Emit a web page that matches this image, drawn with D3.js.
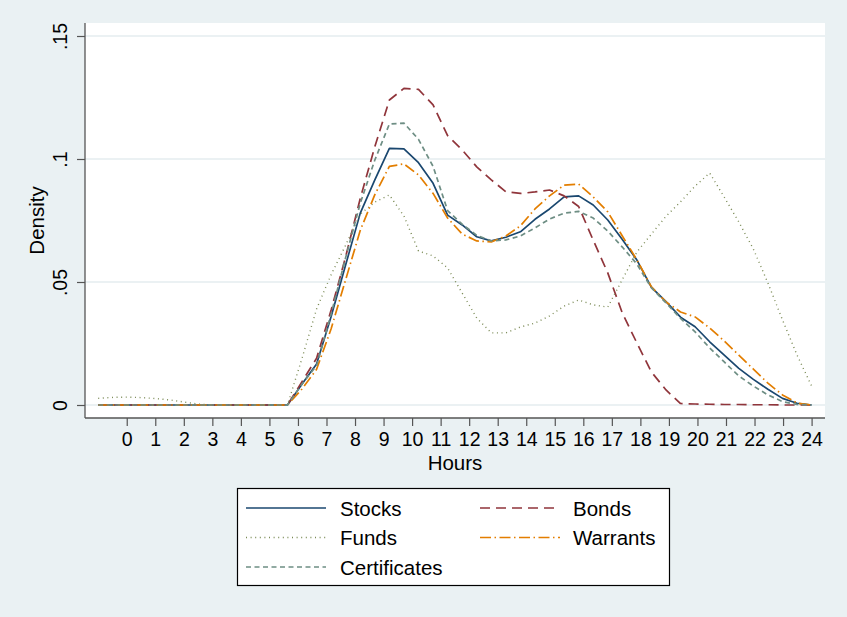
<!DOCTYPE html>
<html>
<head>
<meta charset="utf-8">
<script src="https://cdn.jsdelivr.net/npm/d3@7"></script>
<style>
  html, body { margin: 0; padding: 0; background: #eaf1f3; }
  svg { display: block; font-family: "Liberation Sans", Arial, Helvetica, sans-serif; }
</style>
</head>
<body>
<svg id="chart" width="847" height="617"></svg>
<script>
// Kernel density evaluation points (hours)
const hours = [-1.000,-0.490,0.020,0.531,1.041,1.551,2.061,2.571,3.082,3.592,
  4.102,4.612,5.122,5.633,6.143,6.653,7.163,7.673,8.184,8.694,
  9.204,9.714,10.224,10.735,11.245,11.755,12.265,12.776,13.286,13.796,
  14.306,14.816,15.327,15.837,16.347,16.857,17.367,17.878,18.388,18.898,
  19.408,19.918,20.429,20.939,21.449,21.959,22.469,22.980,23.490,24.000];

const stocks = [0,0,0,0,0,0,0,0,0,0,0,0,0,0,
  0.0085,0.0167,0.036,0.057,0.078,0.0915,0.1043,0.1041,0.0985,0.0901,
  0.0772,0.0732,0.0684,0.0667,0.0682,0.0704,0.0755,0.0797,0.0846,0.085,
  0.0813,0.0752,0.0673,0.0589,0.0478,0.042,0.0357,0.0318,0.0257,0.0203,
  0.0149,0.0104,0.0064,0.0027,0.0007,0];

const bonds = [0,0,0,0,0,0,0,0,0,0,0,0,0,0,
  0.0095,0.019,0.0386,0.0603,0.084,0.105,0.124,0.1287,0.1283,0.122,
  0.1095,0.1037,0.0968,0.0915,0.0867,0.086,0.0866,0.0874,0.085,0.0807,
  0.067,0.0537,0.0374,0.0252,0.0134,0.0061,0.0006,0.0004,0.0003,0.0002,
  0.0002,0.0001,0.0001,0,0,0];

const funds = [0.0027,0.0031,0.0032,0.003,0.0026,0.002,0.0011,0.0003,0,0,0,0,0,0,
  0.019,0.039,0.053,0.065,0.0776,0.0825,0.0854,0.0768,0.0626,0.0606,
  0.0557,0.0455,0.0354,0.0293,0.0293,0.0317,0.0333,0.0362,0.0402,0.0427,
  0.0407,0.0398,0.051,0.0622,0.0695,0.0767,0.0826,0.089,0.0943,0.0845,
  0.0744,0.0634,0.0496,0.0346,0.0203,0.0077];

const warrants = [0,0,0,0,0,0,0,0,0,0,0,0,0,0,
  0.0065,0.0145,0.031,0.051,0.071,0.0855,0.097,0.098,0.0935,0.086,
  0.076,0.0695,0.0667,0.0663,0.0687,0.0728,0.0797,0.085,0.0894,0.0898,
  0.0846,0.0785,0.0687,0.059,0.048,0.0419,0.0378,0.0358,0.0313,0.026,
  0.0203,0.0146,0.0089,0.0041,0.0008,0];

const certificates = [0,0,0,0,0,0,0,0,0,0,0,0,0,0,
  0.0085,0.016,0.037,0.06,0.082,0.0996,0.1142,0.1146,0.108,0.097,
  0.079,0.0735,0.069,0.0667,0.0671,0.0687,0.072,0.0756,0.078,0.0787,
  0.076,0.0707,0.0642,0.0573,0.0476,0.0415,0.0352,0.0297,0.0232,0.0175,
  0.0118,0.0077,0.0041,0.0014,0.0002,0];

const xTicks = d3.range(0, 25);
const yTicks = [0, 0.05, 0.1, 0.15];
const yTickLabels = ["0", ".05", ".1", ".15"];

const seriesNames = ["Stocks", "Bonds", "Funds", "Warrants", "Certificates"];
const seriesValues = [stocks, bonds, funds, warrants, certificates];
const seriesColors = ["#1a476f", "#90353b", "#7a8a55", "#e37e00", "#6e8e84"];
const seriesDash = [null, "10,6", "1,3.6", "11,3.5,1.5,3.5", "5,3.5"];
const seriesWidth = [1.7, 1.7, 1.4, 1.7, 1.7];

const svg = d3.select("#chart");
const W = 847, H = 617;

svg.append("rect").attr("width", W).attr("height", H).attr("fill", "#eaf1f3");

// plot region
const plot = { left: 85, right: 825, top: 23, bottom: 418 };
svg.append("rect")
  .attr("x", plot.left).attr("y", plot.top)
  .attr("width", plot.right - plot.left).attr("height", plot.bottom - plot.top)
  .attr("fill", "#ffffff");

const x = d3.scaleLinear().domain([-1, 24]).range([98.2, 811.6]);
const y = d3.scaleLinear().domain([0, 0.15]).range([405, 36]);

// horizontal gridlines
svg.append("g").selectAll("line").data(yTicks).join("line")
  .attr("x1", plot.left).attr("x2", plot.right)
  .attr("y1", d => y(d)).attr("y2", d => y(d))
  .attr("stroke", "#e4ecef").attr("stroke-width", 1.4);

// y axis
const yAxis = d3.axisLeft(y).tickValues(yTicks).tickSize(8).tickPadding(10)
  .tickFormat((d, i) => yTickLabels[i]);
const gy = svg.append("g").attr("transform", `translate(${plot.left},0)`).call(yAxis);
gy.select(".domain").attr("d", `M0,${plot.top}V${plot.bottom}`).attr("stroke", "#555").attr("stroke-width", 1.3);
gy.selectAll(".tick line").attr("stroke", "#555").attr("stroke-width", 1.2);
gy.selectAll(".tick text")
  .attr("font-size", 19.5).attr("fill", "#000")
  .attr("text-anchor", "middle")
  .attr("dy", 0)
  .attr("transform", "translate(-18,0) rotate(-90)")
  .attr("x", 0).attr("y", 0);

// x axis
const xAxis = d3.axisBottom(x).tickValues(xTicks).tickSize(8).tickPadding(6)
  .tickFormat(d3.format("d"));
const gx = svg.append("g").attr("transform", `translate(0,${plot.bottom})`).call(xAxis);
gx.select(".domain").attr("d", `M${plot.left},0H${plot.right}`).attr("stroke", "#555").attr("stroke-width", 1.3);
gx.selectAll(".tick line").attr("stroke", "#555").attr("stroke-width", 1.2);
gx.selectAll(".tick text").attr("font-size", 19.5).attr("fill", "#000");

// axis titles
svg.append("text").attr("x", (plot.left + plot.right) / 2).attr("y", 470)
  .attr("text-anchor", "middle").attr("font-size", 20.5).text("Hours");
svg.append("text")
  .attr("transform", `translate(44,${(plot.top + plot.bottom) / 2}) rotate(-90)`)
  .attr("text-anchor", "middle").attr("font-size", 20.5).text("Density");

// density curves
const line = d3.line().x((d, i) => x(hours[i])).y(d => y(d));
svg.append("g").selectAll("path").data(seriesValues).join("path")
  .attr("d", d => line(d))
  .attr("fill", "none")
  .attr("stroke", (d, i) => seriesColors[i])
  .attr("stroke-width", (d, i) => seriesWidth[i])
  .attr("stroke-dasharray", (d, i) => seriesDash[i])
  .attr("stroke-linejoin", "round");

// legend
const legend = svg.append("g");
legend.append("rect").attr("x", 237.5).attr("y", 488.5).attr("width", 432).attr("height", 97)
  .attr("fill", "#fff").attr("stroke", "#000").attr("stroke-width", 1.2);
const legendPos = [
  { lx: 246, tx: 340, cy: 508 },
  { lx: 480, tx: 573, cy: 508 },
  { lx: 246, tx: 340, cy: 537.5 },
  { lx: 480, tx: 573, cy: 537.5 },
  { lx: 246, tx: 340, cy: 567 }
];
seriesNames.forEach((name, i) => {
  const p = legendPos[i];
  legend.append("line").attr("x1", p.lx).attr("x2", p.lx + 80)
    .attr("y1", p.cy).attr("y2", p.cy)
    .attr("stroke", seriesColors[i]).attr("stroke-width", seriesWidth[i])
    .attr("stroke-dasharray", seriesDash[i]);
  legend.append("text").attr("x", p.tx).attr("y", p.cy + 7.5)
    .attr("font-size", 20.5).text(name);
});
</script>
</body>
</html>
